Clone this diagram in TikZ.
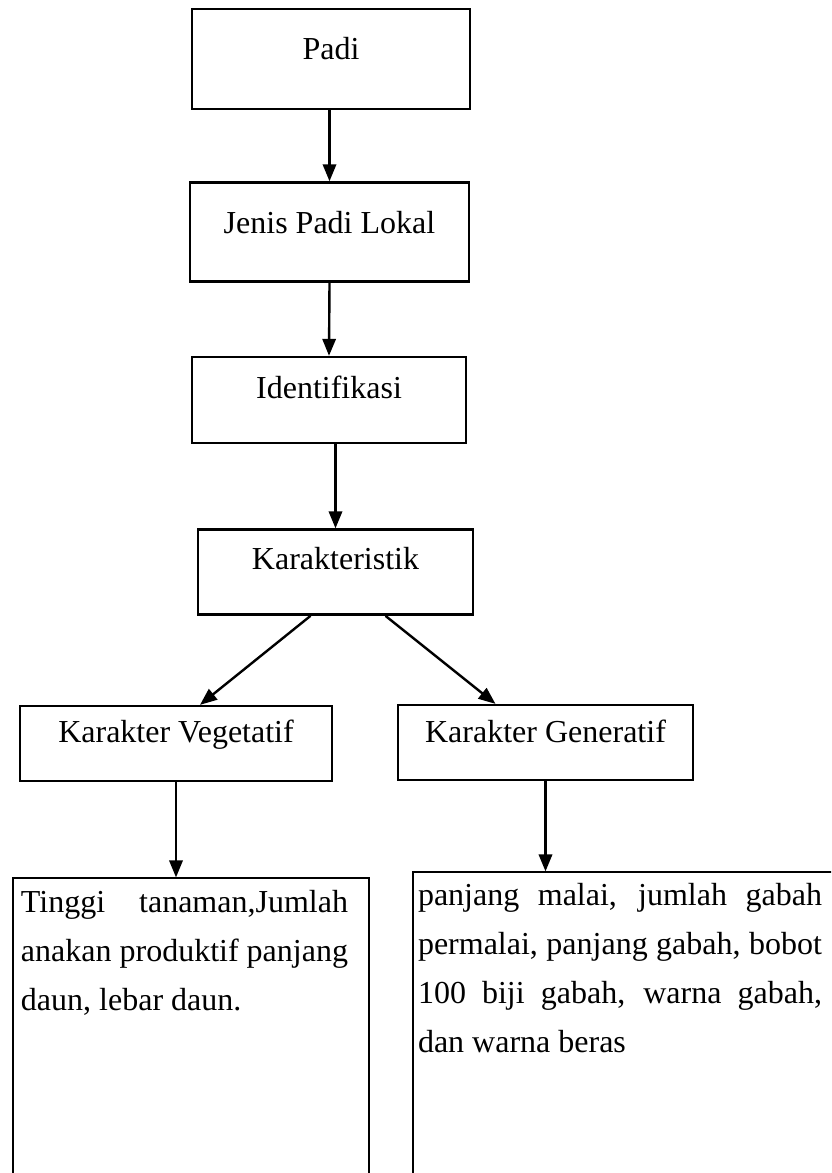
\documentclass[tikz,border=0pt]{standalone}
\usepackage{fontspec}
\setmainfont{Liberation Serif}
\usetikzlibrary{arrows.meta, positioning}
\hyphenpenalty=10000
\tolerance=10000

\begin{document}
\begin{tikzpicture}[
  x=0.75pt, y=-0.75pt,
  box/.style={draw, line width=1.9pt, inner sep=0pt, font=\fontsize{24pt}{36.75pt}\selectfont},
  detail/.style={draw, line width=1.5pt, inner ysep=0pt, align=justify,
                 font=\fontsize{24pt}{36.75pt}\selectfont},
  arr/.style={-{Triangle[length=12.75pt, width=10pt]}, line width=1.8pt},
]
  \path[use as bounding box, clip] (0,0) rectangle (831,1173);

  % main chain
  \node[box, minimum width=208.5pt, text height=38.25pt, text depth=36.75pt] (padi) at (331,59) {Padi};
  \node[box, minimum width=209.25pt, text height=38.25pt, text depth=36pt,
        below=53.25pt of padi, xshift=-1.125pt] (jenis) {Jenis Padi Lokal};
  \node[box, minimum width=205.5pt, text height=30.75pt, text depth=33.75pt,
        below=54.75pt of jenis, xshift=-0.375pt] (ident) {Identifikasi};
  \node[box, minimum width=206.25pt, text height=30pt, text depth=33.75pt,
        below=63pt of ident, xshift=4.875pt] (karak) {Karakteristik};

  % two branches
  \node[box, minimum width=234pt, text height=27pt, text depth=29.25pt,
        below=66.75pt of karak, xshift=-119.625pt] (veget) {Karakter Vegetatif};
  \node[box, minimum width=221.25pt, text height=27.75pt, text depth=28.5pt,
        below=66pt of karak, xshift=157.5pt] (gener) {Karakter Generatif};

  \node[detail, inner xsep=6pt, text width=255pt, text height=25.5pt, text depth=262.5pt,
        below=71.25pt of veget, xshift=11.25pt] (vegdet)
        {\parbox[t]{245.25pt}{Tinggi tanaman,Jumlah\linebreak anakan produktif panjang\linebreak daun, lebar daun.}};
  \node[detail, inner xsep=3.75pt, text width=322.5pt, text height=24.75pt, text depth=262.5pt,
        below=67.5pt of gener, xshift=65.625pt] (gendet)
        {\parbox[t]{303pt}{panjang malai, jumlah gabah\linebreak permalai, panjang gabah, bobot\linebreak 100 biji gabah, warna gabah,\linebreak dan warna beras}};

  \draw[arr] (padi.south -| jenis.north) -- (jenis.north);
  \draw[arr] (jenis.south) -- (ident.north);
  \draw[arr] (ident.south -| karak.north) -- (karak.north);
  \draw[arr] ([xshift=-18.75pt]karak.south) -- ([xshift=18pt]veget.north);
  \draw[arr] ([xshift=37.5pt]karak.south) -- ([xshift=-37.5pt]gener.north);
  \draw[arr] (veget.south) -- (veget.south |- vegdet.north);
  \draw[arr] (gener.south) -- (gener.south |- gendet.north);
\end{tikzpicture}
\end{document}
